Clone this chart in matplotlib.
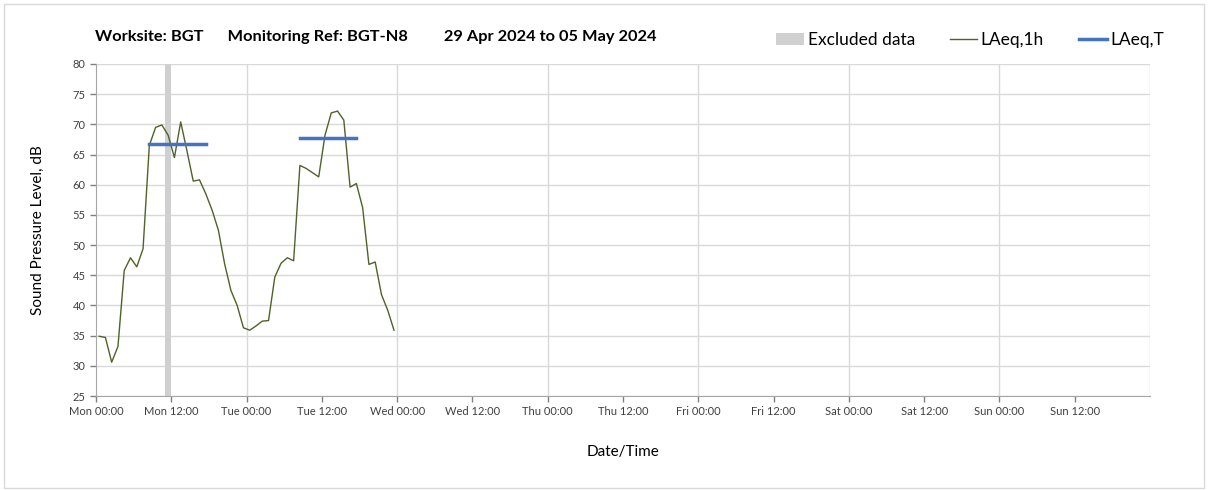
import matplotlib
matplotlib.use("Agg")
import matplotlib.pyplot as plt
from matplotlib.patches import Rectangle, Patch
from matplotlib.lines import Line2D
import numpy as np

plt.rcParams['font.family'] = ['Lato', 'DejaVu Sans']

# hourly LAeq,1h from Mon 00:00 (plotted at the middle of each hour)
laeq_1h = [34.9, 34.7, 30.6, 33.2, 45.8, 47.9, 46.4, 49.4, 66.5, 69.5,
           69.9, 68.2, 64.5, 70.4, 65.6, 60.6, 60.8, 58.5, 55.8, 52.5,
           46.9, 42.5, 40.0, 36.3, 35.9, 36.6, 37.4, 37.5, 44.7, 47.0,
           47.9, 47.4, 63.2, 62.7, 62.0, 61.3, 68.2, 71.9, 72.2, 70.7,
           59.6, 60.2, 56.2, 46.8, 47.2, 41.8, 39.2, 35.9]
hours = np.arange(len(laeq_1h)) + 0.5

# LAeq,T periods: (start hour, end hour, level)
laeq_t_start = [8.5, 32.5]
laeq_t_end = [17.5, 41.5]
laeq_t_value = [66.8, 67.8]

# excluded hours
excluded_start = [11]
excluded_end = [12]

tick_labels = ["Mon 00:00", "Mon 12:00", "Tue 00:00", "Tue 12:00", "Wed 00:00",
               "Wed 12:00", "Thu 00:00", "Thu 12:00", "Fri 00:00", "Fri 12:00",
               "Sat 00:00", "Sat 12:00", "Sun 00:00", "Sun 12:00"]

green = "#4f6228"
blue = "#4472c4"
grid_c = "#d9d9d9"
text_c = "#404040"

fig = plt.figure(figsize=(12.08, 4.9), dpi=100)
ax = fig.add_axes([96 / 1208, 1 - 396 / 490, (1150 - 96) / 1208, (396 - 64) / 490])

# figure border
fig.patches.append(Rectangle((4 / 1208, 2 / 490), 1200 / 1208, 484 / 490,
                             transform=fig.transFigure, fill=False,
                             edgecolor="#d9d9d9", linewidth=1))

for s, e in zip(excluded_start, excluded_end):
    ax.axvspan(s, e, color="#d0d0d0", linewidth=0, zorder=1)

for d in range(24, 169, 24):
    ax.axvline(d, color=grid_c, linewidth=1, zorder=0)
ax.yaxis.grid(True, color=grid_c, linewidth=1, zorder=0)
ax.set_axisbelow(True)

ax.plot(hours, laeq_1h, color=green, linewidth=1, zorder=3)
for s, e, v in zip(laeq_t_start, laeq_t_end, laeq_t_value):
    ax.plot([s, e], [v, v], color=blue, linewidth=2.5, zorder=4)

ax.set_xlim(0, 168)
ax.set_ylim(25, 80)
ax.set_yticks(np.arange(25, 81, 5))
ax.set_xticks(np.arange(0, 168, 12))
ax.set_xticklabels(tick_labels)
ax.tick_params(axis="both", colors="#808080", labelcolor=text_c, labelsize=8,
               length=4, width=1, direction="out")

for side in ["top", "right"]:
    ax.spines[side].set_visible(False)
for side in ["left", "bottom"]:
    ax.spines[side].set_color("#a6a6a6")

ax.set_ylabel("Sound Pressure Level, dB", fontsize=11, color="black", labelpad=20)
ax.set_xlabel("Date/Time", fontsize=11, color="black", labelpad=20)

fig.text(95 / 1208, 1 - 37 / 490,
         "Worksite: BGT      Monitoring Ref: BGT-N8         29 Apr 2024 to 05 May 2024",
         fontsize=11.8, fontweight="bold", va="center", ha="left")

handles = [Patch(facecolor="#d0d0d0", edgecolor="none"),
           Line2D([], [], color=green, linewidth=1),
           Line2D([], [], color=blue, linewidth=2.5)]
fig.legend(handles, ["Excluded data", "LAeq,1h", "LAeq,T"], loc="center right",
           bbox_to_anchor=(1176 / 1208, 1 - 40 / 490), ncol=3, frameon=False,
           fontsize=12.5, handlelength=1.6, handletextpad=0.2, columnspacing=2.0,
           borderpad=0.2)

fig.savefig("out.png", dpi=100)
